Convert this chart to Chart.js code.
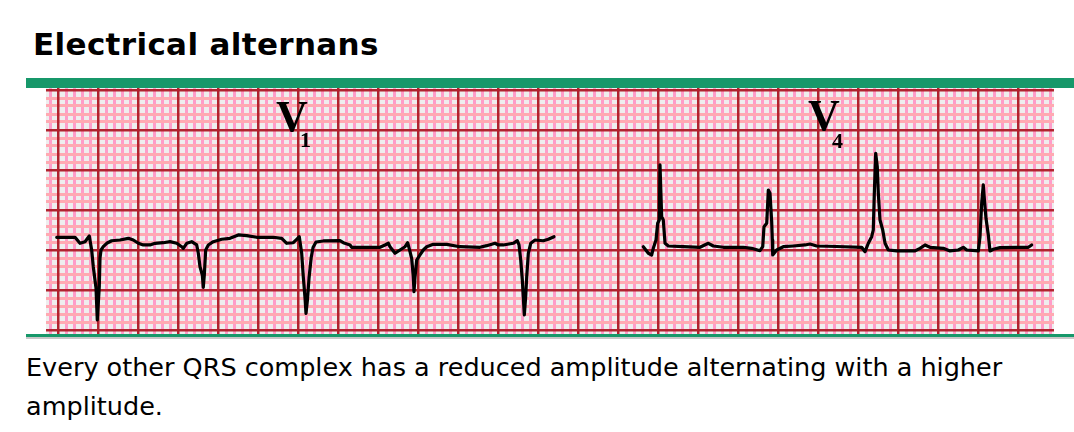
<!DOCTYPE html>
<html>
<head>
<meta charset="utf-8">
<script src="https://cdn.jsdelivr.net/npm/chart.js@4.4.1/dist/chart.umd.min.js"></script>
<style>
  html, body { margin:0; padding:0; background:#fff; width:1074px; height:432px; overflow:hidden; position:relative; }
  #title { position:absolute; left:33px; top:26px; font-family:"DejaVu Sans", Verdana, sans-serif; font-weight:bold; font-size:31px; letter-spacing:0.35px; line-height:normal; color:#000; white-space:nowrap; }
  .bar { position:absolute; left:26px; width:1048px; background:#17986a; }
  #barTop { top:78px; height:10px; }
  #barBot { top:334px; height:3px; }
  #barShadow { position:absolute; left:26px; width:1048px; top:337px; height:2px; background:#c8c8c8; }
  #wrap { position:absolute; left:46px; top:88px; width:1008px; height:246px; }
  #chart { background:#eeeeee; }
  .lead { position:absolute; font-family:"Liberation Serif", "Times New Roman", serif; font-weight:bold; color:#000; line-height:1; white-space:nowrap; }
  .lead .v { font-size:44px; }
  #caption { position:absolute; left:26px; top:348px; font-family:"DejaVu Sans", Verdana, sans-serif; font-size:25.5px; line-height:39px; color:#000; white-space:nowrap; }
</style>
</head>
<body>
<div id="title">Electrical alternans</div>
<div class="bar" id="barTop"></div>
<div id="wrap"><canvas id="chart" width="1008" height="246"></canvas></div>
<div class="bar" id="barBot"></div>
<div id="barShadow"></div>
<div class="lead" id="leadV1" style="left:276px; top:95px;"><span class="v">V</span></div>
<div class="lead" id="subV1" style="left:300px; top:129px; font-size:22px;">1</div>
<div class="lead" id="leadV4" style="left:808px; top:94px;"><span class="v">V</span></div>
<div class="lead" id="subV4" style="left:832px; top:130px; font-size:22px;">4</div>
<div id="caption">Every other QRS complex has a reduced amplitude alternating with a higher<br>amplitude.</div>
<script>
// Time axis in mm of paper (25 mm/s), amplitude axis in mm (10 mm/mV)
const leadLabels = ["V1", "V4"];

const v1Time = [4.84,7.13,7.75,8.38,8.79,8.91,9.21,9.41,9.75,9.91,10.16,10.25,10.38,10.66,11.09,11.71,12.75,13.79,14.41,15.04,15.66,16.5,17.13,18.16,19.0,19.84,20.46,20.66,21.09,21.71,22.34,22.54,22.75,23.04,23.16,23.29,23.46,23.79,24.41,25.46,26.5,27.54,28.59,29.84,31.91,32.96,33.59,34.41,34.84,35.16,35.46,35.66,35.88,36.0,36.19,36.38,36.65,36.88,37.25,38.16,40.25,40.66,41.5,41.71,45.25,45.88,46.29,46.5,47.13,47.75,48.38,48.71,49.0,49.21,49.41,49.5,49.63,49.84,50.25,50.66,51.09,51.91,53.59,55.25,57.75,58.59,59.63,60.04,60.66,61.91,62.41,62.63,62.84,63.04,63.16,63.29,63.46,63.59,63.79,64.09,64.63,65.66,66.29,67.0];
const v1Amp = [11.59,11.59,10.84,11.04,11.59,11.75,10.0,7.91,5.25,1.25,5.41,9.0,10.0,10.41,10.84,11.16,11.25,11.46,11.25,10.84,10.63,10.63,10.84,10.91,11.04,10.84,10.41,10.21,10.84,11.04,10.63,9.59,7.91,6.88,5.34,6.88,10.0,10.63,11.04,11.34,11.46,11.88,11.79,11.59,11.59,11.46,10.84,10.91,11.34,11.66,9.59,6.66,4.0,2.09,3.88,6.5,9.06,10.31,11.0,11.13,11.16,10.91,10.63,10.34,10.34,10.63,10.84,10.41,9.59,10.0,10.41,10.91,9.79,8.96,6.66,4.79,6.66,8.75,9.38,10.0,10.41,10.71,10.71,10.41,10.34,10.54,10.84,10.63,10.63,10.84,11.16,10.63,8.75,6.25,4.16,1.88,4.16,6.66,9.59,10.84,11.25,11.16,11.34,11.66];

const v4Time = [78.16,78.79,79.21,79.41,79.75,79.96,80.16,80.25,80.46,80.66,80.88,81.29,83.16,85.25,86.29,86.91,88.16,90.66,91.71,92.75,93.09,93.25,93.59,93.79,94.0,94.21,94.29,94.34,94.84,95.66,96.91,98.38,99.0,99.84,102.34,105.46,105.88,106.29,106.71,106.91,107.04,107.21,107.41,107.54,107.75,108.09,108.38,108.79,109.84,112.13,112.75,113.38,114.0,115.66,116.5,117.54,118.16,118.59,120.04,120.25,120.46,120.66,120.79,121.0,121.29,121.5,121.91,122.75,124.84,126.29,126.71];
const v4Amp = [10.41,9.59,9.38,10.21,11.25,13.34,13.75,20.63,14.16,13.75,10.84,10.5,10.41,10.34,10.84,10.5,10.34,10.34,10.21,9.91,10.41,12.91,13.34,17.5,17.09,13.54,11.25,9.38,10.0,10.41,10.5,10.63,10.75,10.5,10.44,10.34,9.79,10.84,11.66,12.5,17.09,22.09,20.41,17.09,13.75,12.5,10.84,10.0,9.88,9.88,10.21,10.63,10.34,10.21,9.88,10.0,10.34,10.0,9.88,11.66,15.84,18.13,16.46,13.96,11.88,9.88,10.09,10.29,10.34,10.34,10.63];

// Paper extent (mm) and grid steps (mm)
const timeRange = [3.5, 129.5];
const ampRange = [-0.5, 30.25];
const minorStep = 1;
const majorStep = 5;

function toPoints(xs, ys) { return xs.map((x, i) => ({ x: x, y: ys[i] })); }

function integerTicks(step) {
  return function (axis) {
    const ticks = [];
    const start = Math.ceil(axis.min / step) * step;
    for (let v = start; v <= axis.max + 1e-9; v += step) ticks.push({ value: v });
    axis.ticks = ticks;
  };
}

const minorX = '#ff9cc9';
const minorY = '#ffa9b2';
const majorC = '#b1232f';
const traceC = '#000000';

function gridAxis(pos, range, step, color, width, z) {
  return {
    type: 'linear', position: pos, min: range[0], max: range[1],
    afterBuildTicks: integerTicks(step),
    ticks: { display: false },
    border: { display: false },
    grid: {
      z: z,
      drawTicks: false,
      color: (ctx) => (step === minorStep && ctx.tick && Math.abs(ctx.tick.value % majorStep) < 1e-9) ? 'rgba(0,0,0,0)' : color,
      lineWidth: width
    }
  };
}

const traceStyle = {
  showLine: true, borderColor: traceC, backgroundColor: traceC, borderWidth: 3.2,
  pointRadius: 0, tension: 0, borderJoinStyle: 'round', borderCapStyle: 'round', clip: false
};

new Chart(document.getElementById('chart'), {
  type: 'scatter',
  data: {
    datasets: [
      Object.assign({ label: leadLabels[0], data: toPoints(v1Time, v1Amp) }, traceStyle),
      Object.assign({ label: leadLabels[1], data: toPoints(v4Time, v4Amp) }, traceStyle)
    ]
  },
  options: {
    responsive: false,
    animation: false,
    events: [],
    layout: { padding: 0 },
    plugins: { legend: { display: false }, tooltip: { enabled: false }, title: { display: false } },
    scales: {
      xm: gridAxis('bottom', timeRange, minorStep, minorX, 3, -3),
      ym: gridAxis('left', ampRange, minorStep, minorY, 3, -3),
      x: gridAxis('bottom', timeRange, majorStep, majorC, 2.5, -2),
      y: gridAxis('left', ampRange, majorStep, majorC, 2.5, -2)
    }
  }
});
</script>
</body>
</html>
